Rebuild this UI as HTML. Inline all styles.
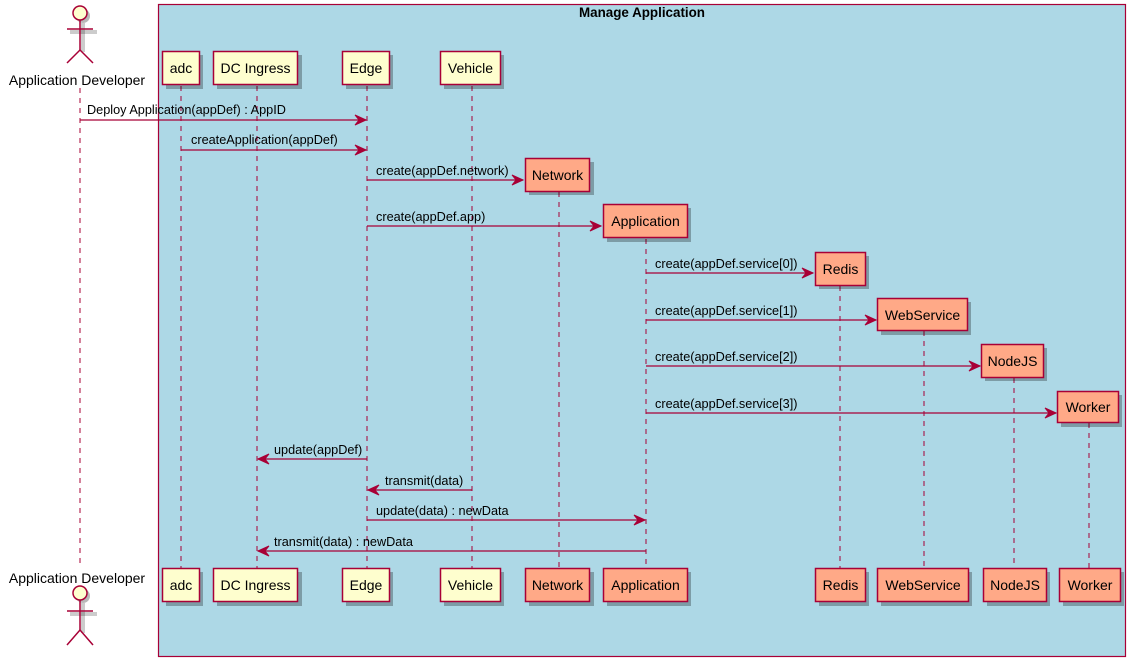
<!DOCTYPE html>
<html><head><meta charset="utf-8"><style>
html,body{margin:0;padding:0;background:#fff;}
svg{display:block;}
text{font-family:"Liberation Sans",Arial,sans-serif;font-size:14px;fill:#000;}
.ll{stroke:#A80036;stroke-width:1;stroke-dasharray:5,5;fill:none;}
.m{stroke:#A80036;stroke-width:1.2;fill:none;}
.ah{fill:#A80036;stroke:#A80036;}
.p{fill:#FEFECE;stroke:#A80036;stroke-width:1.5;}
.c{fill:#FFA987;stroke:#A80036;stroke-width:1.5;}
.sh{fill:#000;opacity:0.28;}
.lb{font-size:12.7px;}
</style></head><body>
<svg width="1135" height="666" viewBox="0 0 1135 666" xmlns="http://www.w3.org/2000/svg">
<rect x="158.5" y="4.5" width="967" height="652" fill="#ADD8E6" stroke="#A80036" stroke-width="1.2"/>
<text x="642" y="17" text-anchor="middle" style="font-weight:bold;font-size:13.4px">Manage Application</text>

<line class="ll" x1="80" y1="88" x2="80" y2="566"/>
<line class="ll" x1="181" y1="86" x2="181" y2="568"/>
<line class="ll" x1="257" y1="86" x2="257" y2="568"/>
<line class="ll" x1="367" y1="86" x2="367" y2="568"/>
<line class="ll" x1="472" y1="86" x2="472" y2="568"/>
<line class="ll" x1="559" y1="192" x2="559" y2="568"/>
<line class="ll" x1="646" y1="239" x2="646" y2="568"/>
<line class="ll" x1="840" y1="286" x2="840" y2="568"/>
<line class="ll" x1="924" y1="331" x2="924" y2="568"/>
<line class="ll" x1="1014" y1="378" x2="1014" y2="568"/>
<line class="ll" x1="1089" y1="423" x2="1089" y2="568"/>

<g>
<circle cx="83" cy="16" r="7" class="sh"/>
<line x1="83" y1="23" x2="83" y2="52" stroke="#000" stroke-opacity="0.2" stroke-width="4"/>
<line x1="70" y1="32" x2="97" y2="32" stroke="#000" stroke-opacity="0.2" stroke-width="4"/>
<circle cx="80" cy="13" r="7" fill="#FEFECE" stroke="#A80036" stroke-width="1.5"/>
<line x1="80" y1="20" x2="80" y2="50" stroke="#A80036" stroke-width="1.5"/>
<line x1="67" y1="29" x2="93" y2="29" stroke="#A80036" stroke-width="1.5"/>
<polyline points="67,63 80,50 93,63" fill="none" stroke="#A80036" stroke-width="1.5"/>
<text x="77" y="85" text-anchor="middle">Application Developer</text>
</g>
<g>
<text x="77" y="583" text-anchor="middle">Application Developer</text>
<circle cx="83" cy="596" r="7" class="sh"/>
<line x1="83" y1="603" x2="83" y2="633" stroke="#000" stroke-opacity="0.2" stroke-width="4"/>
<line x1="70" y1="614" x2="97" y2="614" stroke="#000" stroke-opacity="0.2" stroke-width="4"/>
<circle cx="80" cy="593" r="7" fill="#FEFECE" stroke="#A80036" stroke-width="1.5"/>
<line x1="80" y1="600" x2="80" y2="630" stroke="#A80036" stroke-width="1.5"/>
<line x1="67" y1="611" x2="93" y2="611" stroke="#A80036" stroke-width="1.5"/>
<polyline points="67,645 80,630 93,645" fill="none" stroke="#A80036" stroke-width="1.5"/>
</g>

<rect class="sh" x="166" y="55" width="37" height="34"/><rect class="p" x="162.5" y="51.5" width="37" height="33"/><text x="181" y="73" text-anchor="middle">adc</text>
<rect class="sh" x="217" y="55" width="85" height="34"/><rect class="p" x="213.5" y="51.5" width="84" height="33"/><text x="255.5" y="73" text-anchor="middle">DC Ingress</text>
<rect class="sh" x="346" y="55" width="47" height="34"/><rect class="p" x="342.5" y="51.5" width="47" height="33"/><text x="366" y="73" text-anchor="middle">Edge</text>
<rect class="sh" x="444" y="55" width="60" height="34"/><rect class="p" x="440.5" y="51.5" width="60" height="33"/><text x="470.5" y="73" text-anchor="middle">Vehicle</text>

<rect class="sh" x="529" y="162" width="65" height="33"/><rect class="c" x="525.5" y="158.5" width="64" height="33"/><text x="557.5" y="180" text-anchor="middle">Network</text>
<rect class="sh" x="607" y="208" width="84" height="34"/><rect class="c" x="603.5" y="204.5" width="84" height="33"/><text x="645.5" y="226" text-anchor="middle">Application</text>
<rect class="sh" x="819" y="256" width="50" height="33"/><rect class="c" x="815.5" y="252.5" width="50" height="33"/><text x="840.5" y="274" text-anchor="middle">Redis</text>
<rect class="sh" x="881" y="302" width="90" height="33"/><rect class="c" x="877.5" y="298.5" width="90" height="32"/><text x="922.5" y="320" text-anchor="middle">WebService</text>
<rect class="sh" x="985" y="348" width="62" height="33"/><rect class="c" x="981.5" y="344.5" width="62" height="33"/><text x="1012.5" y="366" text-anchor="middle">NodeJS</text>
<rect class="sh" x="1061" y="395" width="61" height="32"/><rect class="c" x="1057.5" y="391.5" width="61" height="31"/><text x="1088" y="412" text-anchor="middle">Worker</text>

<rect class="sh" x="166" y="572" width="37" height="34"/><rect class="p" x="162.5" y="568.5" width="37" height="33"/><text x="181" y="590" text-anchor="middle">adc</text>
<rect class="sh" x="217" y="572" width="85" height="34"/><rect class="p" x="213.5" y="568.5" width="84" height="33"/><text x="255.5" y="590" text-anchor="middle">DC Ingress</text>
<rect class="sh" x="346" y="572" width="47" height="34"/><rect class="p" x="342.5" y="568.5" width="47" height="33"/><text x="366" y="590" text-anchor="middle">Edge</text>
<rect class="sh" x="444" y="572" width="60" height="34"/><rect class="p" x="440.5" y="568.5" width="60" height="33"/><text x="470.5" y="590" text-anchor="middle">Vehicle</text>
<rect class="sh" x="529" y="572" width="65" height="34"/><rect class="c" x="525.5" y="568.5" width="64" height="33"/><text x="557.5" y="590" text-anchor="middle">Network</text>
<rect class="sh" x="607" y="572" width="84" height="34"/><rect class="c" x="603.5" y="568.5" width="84" height="33"/><text x="645.5" y="590" text-anchor="middle">Application</text>
<rect class="sh" x="819" y="572" width="50" height="34"/><rect class="c" x="815.5" y="568.5" width="50" height="33"/><text x="840.5" y="590" text-anchor="middle">Redis</text>
<rect class="sh" x="881" y="572" width="91" height="34"/><rect class="c" x="877.5" y="568.5" width="91" height="33"/><text x="923" y="590" text-anchor="middle">WebService</text>
<rect class="sh" x="987" y="572" width="63" height="34"/><rect class="c" x="983.5" y="568.5" width="63" height="33"/><text x="1015" y="590" text-anchor="middle">NodeJS</text>
<rect class="sh" x="1063" y="572" width="61" height="34"/><rect class="c" x="1059.5" y="568.5" width="61" height="33"/><text x="1090" y="590" text-anchor="middle">Worker</text>

<line class="m" x1="80" y1="120" x2="366" y2="120"/><path class="ah" d="M366,120 L355,115 L359,120 L355,125 Z"/>
<text class="lb" x="87" y="114">Deploy Application(appDef) : AppID</text>

<line class="m" x1="181" y1="150" x2="366" y2="150"/><path class="ah" d="M366,150 L355,145 L359,150 L355,155 Z"/>
<text class="lb" x="191" y="144">createApplication(appDef)</text>

<line class="m" x1="367" y1="180" x2="523" y2="180"/><path class="ah" d="M523,180 L512,175 L516,180 L512,185 Z"/>
<text class="lb" x="376" y="175">create(appDef.network)</text>

<line class="m" x1="367" y1="226" x2="601" y2="226"/><path class="ah" d="M601,226 L590,221 L594,226 L590,231 Z"/>
<text class="lb" x="376" y="221">create(appDef.app)</text>

<line class="m" x1="646" y1="273" x2="813" y2="273"/><path class="ah" d="M813,273 L802,268 L806,273 L802,278 Z"/>
<text class="lb" x="655" y="268">create(appDef.service[0])</text>

<line class="m" x1="646" y1="320" x2="876" y2="320"/><path class="ah" d="M876,320 L865,315 L869,320 L865,325 Z"/>
<text class="lb" x="655" y="315">create(appDef.service[1])</text>

<line class="m" x1="646" y1="366" x2="980" y2="366"/><path class="ah" d="M980,366 L969,361 L973,366 L969,371 Z"/>
<text class="lb" x="655" y="361">create(appDef.service[2])</text>

<line class="m" x1="646" y1="413" x2="1056" y2="413"/><path class="ah" d="M1056,413 L1045,408 L1049,413 L1045,418 Z"/>
<text class="lb" x="655" y="408">create(appDef.service[3])</text>

<line class="m" x1="258" y1="459" x2="367" y2="459"/><path class="ah" d="M258,459 L269,454 L265,459 L269,464 Z"/>
<text class="lb" x="274" y="454">update(appDef)</text>

<line class="m" x1="368" y1="490" x2="472" y2="490"/><path class="ah" d="M368,490 L379,485 L375,490 L379,495 Z"/>
<text class="lb" x="385" y="485">transmit(data)</text>

<line class="m" x1="367" y1="520" x2="645" y2="520"/><path class="ah" d="M645,520 L634,515 L638,520 L634,525 Z"/>
<text class="lb" x="376" y="515">update(data) : newData</text>

<line class="m" x1="258" y1="551" x2="646" y2="551"/><path class="ah" d="M258,551 L269,546 L265,551 L269,556 Z"/>
<text class="lb" x="274" y="546">transmit(data) : newData</text>
</svg>
</body></html>
